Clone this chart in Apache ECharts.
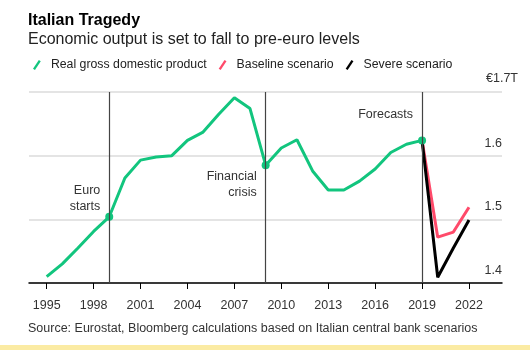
<!DOCTYPE html>
<html>
<head>
<meta charset="utf-8">
<script src="https://cdn.jsdelivr.net/npm/echarts@6/dist/echarts.min.js"></script>
<style>
  html, body { margin: 0; padding: 0; background: #fff; }
  #chart { width: 530px; height: 350px; }
</style>
</head>
<body>
<div id="chart"></div>
<script>
// 数据
var years = [1995, 1996, 1997, 1998, 1999, 2000, 2001, 2002, 2003, 2004, 2005, 2006, 2007,
             2008, 2009, 2010, 2011, 2012, 2013, 2014, 2015, 2016, 2017, 2018, 2019];
var gdp = [1.410, 1.430, 1.455, 1.481, 1.504, 1.565, 1.593, 1.598, 1.600, 1.624, 1.637, 1.665, 1.691,
           1.674, 1.585, 1.612, 1.625, 1.576, 1.546, 1.546, 1.560, 1.579, 1.605, 1.618, 1.624];
var forecastYears = [2019, 2020, 2021, 2022];
var baseline = [1.624, 1.472, 1.480, 1.519];
var severe = [1.624, 1.409, 1.455, 1.499];
var tickYears = [1995, 1998, 2001, 2004, 2007, 2010, 2013, 2016, 2019, 2022];
var eventYears = [1999, 2009, 2019];
var eventLabels = ['Euro\nstarts', 'Financial\ncrisis', 'Forecasts'];
var eventLabelY = [1.533, 1.554, 1.664];

var font = 'Liberation Sans, Arial, sans-serif';
var slash = 'path://M0,9 L6,0 L8,1.3 L2,10.3 Z';

var gdpData = years.map(function (y, i) {
    var item = { value: [y, gdp[i]] };
    if (eventYears.indexOf(y) >= 0) {
        item.symbol = 'circle';
        item.symbolSize = 8;
    }
    return item;
});

var myChart = echarts.init(document.getElementById('chart'));

var option = {
    animation: false,
    textStyle: { fontFamily: font },
    title: {
        text: 'Italian Tragedy',
        subtext: 'Economic output is set to fall to pre-euro levels',
        left: 23,
        top: 8,
        itemGap: 3,
        textStyle: { fontSize: 16, fontWeight: 'bold', color: '#000', fontFamily: font },
        subtextStyle: { fontSize: 16, color: '#222', fontFamily: font }
    },
    legend: {
        left: 28,
        top: 54,
        itemWidth: 8,
        itemHeight: 10,
        itemGap: 12,
        data: [
            { name: 'Real gross domestic product', icon: slash },
            { name: 'Baseline scenario', icon: slash },
            { name: 'Severe scenario', icon: slash }
        ],
        textStyle: { fontSize: 12.3, color: '#222', padding: [0, 0, 0, 5], fontFamily: font }
    },
    grid: { left: 29, right: 28, top: 92, bottom: 67 },
    xAxis: {
        type: 'value',
        min: 1993.87,
        max: 2024.11,
        splitLine: { show: false },
        axisLine: { lineStyle: { color: '#000', width: 1.5 } },
        axisTick: { show: true, length: 6, lineStyle: { color: '#000' }, customValues: tickYears },
        axisLabel: {
            customValues: tickYears,
            margin: 16,
            fontSize: 12.5,
            color: '#333',
            fontFamily: font,
            formatter: function (v) { return String(v); }
        }
    },
    yAxis: {
        type: 'value',
        position: 'right',
        min: 1.4,
        max: 1.7,
        interval: 0.1,
        name: '€1.7T',
        nameLocation: 'end',
        nameGap: 13,
        nameTextStyle: { fontSize: 12.5, color: '#333', align: 'center', verticalAlign: 'middle', fontFamily: font },
        axisLine: { show: false },
        axisTick: { show: false },
        axisLabel: {
            inside: true,
            margin: 0,
            verticalAlign: 'bottom',
            padding: [0, 0, 6, 0],
            fontSize: 12.5,
            color: '#333',
            fontFamily: font,
            formatter: function (v) {
                if (v > 1.65) return '';
                return v.toFixed(1);
            }
        },
        splitLine: { lineStyle: { color: '#e4e4e4', width: 2 } }
    },
    series: [
        {
            name: 'Baseline scenario',
            type: 'line',
            symbol: 'none',
            z: 2,
            itemStyle: { color: '#ff4a6a' },
            lineStyle: { color: '#ff4a6a', width: 3 },
            data: forecastYears.map(function (y, i) { return [y, baseline[i]]; })
        },
        {
            name: 'Severe scenario',
            type: 'line',
            symbol: 'none',
            z: 3,
            itemStyle: { color: '#000' },
            lineStyle: { color: '#000', width: 3 },
            data: forecastYears.map(function (y, i) { return [y, severe[i]]; })
        },
        {
            name: 'Real gross domestic product',
            type: 'line',
            symbol: 'none',
            z: 4,
            itemStyle: { color: '#12c57e' },
            lineStyle: { color: '#12c57e', width: 3 },
            data: gdpData,
            markLine: {
                silent: true,
                symbol: ['none', 'none'],
                label: { show: false },
                lineStyle: { color: '#444', width: 1.2, type: 'solid' },
                data: eventYears.map(function (y) { return { xAxis: y }; })
            },
            markPoint: {
                silent: true,
                symbol: 'circle',
                symbolSize: 0,
                label: {
                    show: true,
                    position: 'left',
                    distance: 9,
                    align: 'right',
                    fontSize: 12.5,
                    lineHeight: 16,
                    color: '#333',
                    fontFamily: font,
                    formatter: function (p) { return p.name; }
                },
                data: eventYears.map(function (y, i) {
                    return { name: eventLabels[i], coord: [y, eventLabelY[i]] };
                })
            }
        }
    ],
    graphic: [
        {
            type: 'text',
            left: 28,
            top: 322,
            style: {
                text: 'Source: Eurostat, Bloomberg calculations based on Italian central bank scenarios',
                fontSize: 12.5,
                fill: '#333',
                fontFamily: font
            }
        },
        {
            type: 'rect',
            left: 0,
            top: 345,
            shape: { width: 530, height: 5 },
            style: { fill: '#fbeba3' }
        }
    ]
};

myChart.setOption(option);
</script>
</body>
</html>
